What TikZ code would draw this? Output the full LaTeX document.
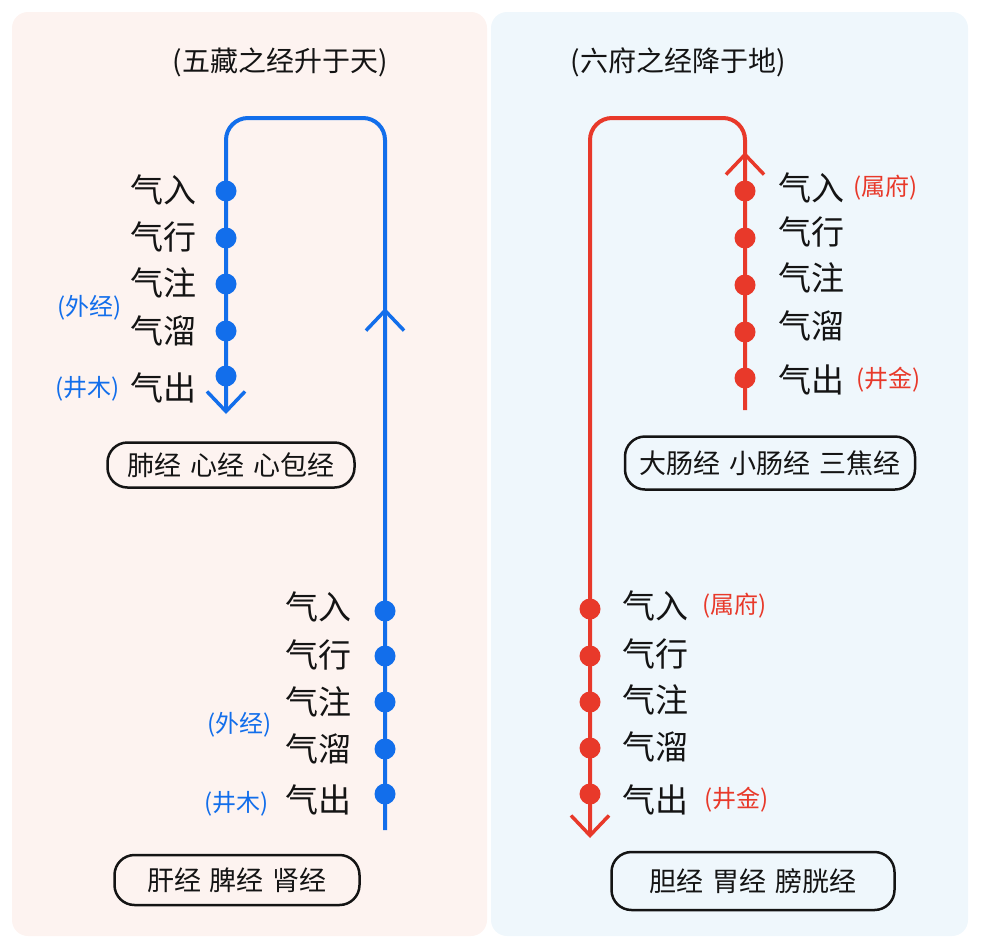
\documentclass[tikz,border=0pt]{standalone}
\usepackage{fontspec}
\setmainfont{Noto Sans CJK SC}
\usetikzlibrary{arrows.meta}
\definecolor{bl}{RGB}{18,110,235}
\definecolor{rd}{RGB}{232,57,42}
\definecolor{bgl}{RGB}{253,243,240}
\definecolor{bgr}{RGB}{239,247,252}
\definecolor{ink}{RGB}{20,20,20}
\tikzset{
  vtip/.tip={Straight Barb[length=20pt,width=38pt,line width=3.5pt]},
  bline/.style={draw=bl,line width=4pt,rounded corners=22pt},
  rline/.style={draw=rd,line width=4pt,rounded corners=22pt},
  bdot/.style={circle,fill=bl,minimum size=21pt,inner sep=0pt},
  rdot/.style={circle,fill=rd,minimum size=21pt,inner sep=0pt},
  lbl/.style={text=ink,font=\fontsize{33}{35}\selectfont,inner sep=0pt},
  blnote/.style={text=bl,font=\fontsize{24}{26}\selectfont,inner sep=0pt},
  rdnote/.style={text=rd,font=\fontsize{24}{26}\selectfont,inner sep=0pt},
  ttl/.style={text=ink,font=\fontsize{28}{30}\selectfont,inner sep=0pt},
  boxx/.style={draw=ink,line width=2.5pt,rounded corners=20pt,text=ink,font=\fontsize{27}{29}\selectfont,inner sep=0pt},
}
\begin{document}
\begin{tikzpicture}[x=1pt,y=-1pt]
\useasboundingbox (0,0) rectangle (981,945);
\fill[bgl,rounded corners=16pt] (12,12) rectangle (487,936);
\fill[bgr,rounded corners=16pt] (491,12) rectangle (968,936);

% titles
\node[ttl] (t1) at (280,62) {(五藏之经升于天)};
\node[ttl] (t2) at (678,62) {(六府之经降于地)};

% ---------- left (blue) ----------
\coordinate (LA) at (226,118);
\coordinate (LB) at (385,118);
\coordinate (Lend) at (226,414);
\coordinate (Lstart) at (385,830);
\coordinate (Lmid0) at (385,360);
\coordinate (Lmid) at (385,308);
\draw[bline,-vtip] (Lstart) -- (LB) -- (LA) -- (Lend);
\draw[bline,-vtip] (Lmid0) -- (Lmid);

\foreach \i/\y in {1/191,2/238,3/284,4/331,5/376}{\node[bdot] (ua\i) at (226,\y) {};}
\foreach \i/\y in {1/611,2/656,3/702,4/749,5/794}{\node[bdot] (la\i) at (385,\y) {};}

\node[lbl,anchor=east] (ul1) at (197,190) {气入};
\node[lbl,anchor=east] (ul2) at (197,237) {气行};
\node[lbl,anchor=east] (ul3) at (197,283) {气注};
\node[lbl,anchor=east] (ul4) at (197,331) {气溜};
\node[lbl,anchor=east] (ul5) at (197,388) {气出};
\node[blnote,anchor=east] (un1) at (122,308) {(外经)};
\node[blnote,anchor=east] (un2) at (120,389) {(井木)};

\node[lbl,anchor=east] (ll1) at (352,607) {气入};
\node[lbl,anchor=east] (ll2) at (352,655) {气行};
\node[lbl,anchor=east] (ll3) at (352,702) {气注};
\node[lbl,anchor=east] (ll4) at (352,749) {气溜};
\node[lbl,anchor=east] (ll5) at (352,800) {气出};
\node[blnote,anchor=east] (ln1) at (272,725) {(外经)};
\node[blnote,anchor=east] (ln2) at (269,804) {(井木)};

\node[boxx,minimum width=247pt,minimum height=45pt] (b1) at (231,465) {肺经\,\,心经\,\,心包经};
\node[boxx,minimum width=245pt,minimum height=50pt] (b2) at (237,880) {肝经\,\,脾经\,\,肾经};

% ---------- right (red) ----------
\coordinate (RA) at (745,118);
\coordinate (RB) at (590,118);
\coordinate (Rstart) at (745,410);
\coordinate (Rend) at (590,838);
\coordinate (Rmid0) at (745,210);
\coordinate (Rmid) at (745,152);
\draw[rline,-vtip] (Rstart) -- (RA) -- (RB) -- (Rend);
\draw[rline,-vtip] (Rmid0) -- (Rmid);

\foreach \i/\y in {1/191,2/238,3/285,4/332,5/378}{\node[rdot] (ub\i) at (745,\y) {};}
\foreach \i/\y in {1/609,2/656,3/702,4/748,5/794}{\node[rdot] (lb\i) at (590,\y) {};}

\node[lbl,anchor=west] (ur1) at (778,188) {气入};
\node[lbl,anchor=west] (ur2) at (778,232) {气行};
\node[lbl,anchor=west] (ur3) at (778,278) {气注};
\node[lbl,anchor=west] (ur4) at (778,326) {气溜};
\node[lbl,anchor=west] (ur5) at (778,380) {气出};
\node[rdnote,anchor=west] (rn1) at (853,188) {(属府)};
\node[rdnote,anchor=west] (rn2) at (856,380) {(井金)};

\node[lbl,anchor=west] (lr1) at (622,606) {气入};
\node[lbl,anchor=west] (lr2) at (622,654) {气行};
\node[lbl,anchor=west] (lr3) at (622,700) {气注};
\node[lbl,anchor=west] (lr4) at (622,747) {气溜};
\node[lbl,anchor=west] (lr5) at (622,800) {气出};
\node[rdnote,anchor=west] (rn3) at (702,606) {(属府)};
\node[rdnote,anchor=west] (rn4) at (704,800) {(井金)};

\node[boxx,minimum width=290pt,minimum height=53pt] (b3) at (770,463) {大肠经\,\,小肠经\,\,三焦经};
\node[boxx,minimum width=283pt,minimum height=58pt] (b4) at (753,881) {胆经\,\,胃经\,\,膀胱经};
\end{tikzpicture}
\end{document}
